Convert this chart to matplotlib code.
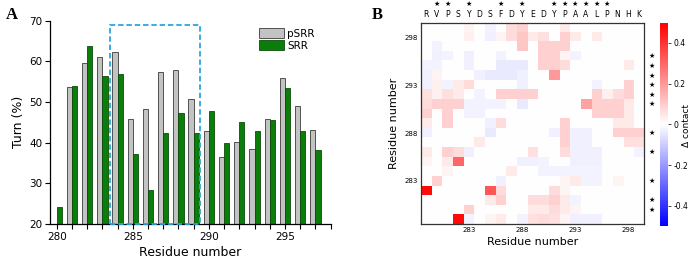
import numpy as np
import matplotlib
matplotlib.use("Agg")
import matplotlib.pyplot as plt
from matplotlib.patches import Rectangle
from matplotlib.ticker import MultipleLocator

# ---- panel A data: turn propensity per residue ----
residues = np.arange(280, 298)
turn_psrr = [0, 53.7, 59.5, 61.0, 62.3, 45.9, 48.2, 57.3, 57.8, 50.7,
             42.9, 36.5, 40.1, 38.4, 45.9, 56.0, 49.1, 43.0]
turn_srr = [24.1, 53.9, 63.8, 56.4, 56.9, 37.1, 28.4, 42.4, 47.2, 42.4,
            47.8, 39.8, 45.0, 42.8, 45.6, 53.4, 42.9, 38.2]
box_x = (283.5, 289.45)
box_top = 68.9

# ---- panel B data: delta contact map, residues 279..299 ----
sequence = list("RVPSYDSFDYEDYPAALPNHK")
first_res = 279
star_idx = [1, 2, 4, 7, 9, 12, 13, 14, 15, 16, 17]
# sparse entries: (row from top, column, value); row 0 = residue 299
contacts = [
    (0, 4, 0.02), (0, 6, -0.02), (0, 8, 0.07), (0, 9, 0.09), (0, 13, 0.04),
    (1, 4, 0.03), (1, 6, -0.03), (1, 7, 0.02), (1, 8, 0.07), (1, 9, 0.11), (1, 10, 0.04),
    (1, 11, 0.06), (1, 13, 0.09), (1, 14, 0.04), (1, 16, 0.04),
    (2, 1, -0.02), (2, 9, 0.11), (2, 11, 0.09), (2, 12, 0.09), (2, 13, 0.09),
    (3, 1, -0.03), (3, 2, -0.02), (3, 4, -0.03), (3, 7, -0.02), (3, 11, 0.09), (3, 12, 0.09),
    (3, 13, 0.02), (3, 14, -0.02),
    (4, 0, -0.02), (4, 1, -0.02), (4, 4, -0.03), (4, 7, -0.04), (4, 8, -0.04), (4, 9, -0.04),
    (4, 11, 0.09), (4, 12, 0.09), (4, 13, 0.07), (4, 19, 0.04),
    (5, 0, -0.03), (5, 1, 0.02), (5, 5, -0.03), (5, 6, -0.04), (5, 7, -0.04), (5, 8, -0.04),
    (5, 9, -0.03), (5, 12, 0.2),
    (6, 0, -0.03), (6, 1, 0.03), (6, 2, -0.02), (6, 3, 0.04), (6, 4, 0.07), (6, 9, -0.03),
    (6, 16, -0.02), (6, 19, 0.09),
    (7, 0, 0.06), (7, 1, 0.03), (7, 2, 0.06), (7, 3, 0.04), (7, 5, -0.02), (7, 7, 0.09),
    (7, 8, 0.09), (7, 9, 0.09), (7, 10, 0.09), (7, 16, 0.09), (7, 17, 0.03), (7, 18, 0.07),
    (7, 19, 0.09),
    (8, 0, 0.07), (8, 1, 0.09), (8, 2, 0.09), (8, 3, 0.09), (8, 4, -0.02), (8, 5, -0.02),
    (8, 6, -0.02), (8, 7, -0.02), (8, 9, -0.04), (8, 15, 0.18), (8, 16, 0.09), (8, 17, 0.09),
    (8, 18, 0.09), (8, 19, 0.04),
    (9, 0, 0.09), (9, 2, 0.09), (9, 4, -0.02), (9, 5, -0.02), (9, 16, 0.09), (9, 17, 0.09),
    (9, 18, 0.09), (9, 19, 0.04),
    (10, 0, 0.04), (10, 2, 0.09), (10, 6, -0.03), (10, 7, 0.07), (10, 13, 0.09),
    (10, 18, 0.04), (10, 19, 0.04),
    (11, 0, -0.03), (11, 6, -0.04), (11, 12, -0.03), (11, 13, 0.09), (11, 14, -0.03),
    (11, 15, -0.03), (11, 18, 0.09), (11, 19, 0.09), (11, 20, 0.09),
    (12, 5, 0.04), (12, 13, 0.09), (12, 14, -0.03), (12, 15, -0.03), (12, 19, 0.06),
    (12, 20, 0.06),
    (13, 0, 0.04), (13, 2, 0.09), (13, 3, 0.07), (13, 4, -0.03), (13, 10, 0.06), (13, 13, 0.07),
    (13, 14, -0.03), (13, 15, -0.03), (13, 16, -0.03), (13, 20, -0.02),
    (14, 0, 0.02), (14, 2, 0.04), (14, 3, 0.3), (14, 9, -0.03), (14, 10, -0.03),
    (14, 11, -0.02), (14, 14, -0.03), (14, 15, -0.03), (14, 16, -0.03),
    (15, 2, 0.02), (15, 8, 0.04), (15, 11, -0.02), (15, 12, -0.02), (15, 13, -0.02),
    (15, 14, -0.02), (15, 15, -0.02), (15, 16, -0.02),
    (16, 1, 0.09), (16, 7, -0.03), (16, 13, 0.02), (16, 14, 0.04), (16, 15, -0.02),
    (16, 16, -0.02), (16, 18, 0.02),
    (17, 0, 0.48), (17, 6, 0.33), (17, 7, 0.07), (17, 12, 0.07), (17, 13, 0.02),
    (18, 6, 0.04), (18, 7, 0.09), (18, 10, 0.07), (18, 11, 0.07), (18, 12, 0.09),
    (18, 13, 0.04), (18, 14, -0.02),
    (19, 4, 0.09), (19, 10, 0.04), (19, 11, 0.04), (19, 12, 0.07), (19, 13, 0.04), (19, 14, 0.02),
    (20, 3, 0.48), (20, 4, -0.02), (20, 6, 0.02), (20, 7, 0.04), (20, 9, -0.02), (20, 10, 0.06),
    (20, 11, 0.07), (20, 12, 0.06), (20, 13, 0.02), (20, 14, -0.03), (20, 15, -0.03),
    (20, 16, -0.03),
]

n = len(sequence)
last_res = first_res + n - 1
delta = np.zeros((n, n))
for r, c, v in contacts:
    delta[r, c] = v

fig = plt.figure(figsize=(6.93, 2.66), dpi=100)

# ---------------- panel A ----------------
ax = fig.add_axes([0.072, 0.158, 0.405, 0.764])
w = 0.34
ax.bar(residues - w / 2, turn_psrr, width=w, color='#c3c3c3', edgecolor='#3a3a3a',
       linewidth=0.6, label='pSRR')
ax.bar(residues + w / 2, turn_srr, width=w, color='#0a7d0a', edgecolor='#0b4d0b',
       linewidth=0.6, label='SRR')
ax.add_patch(Rectangle((box_x[0], 20), box_x[1] - box_x[0], box_top - 20, fill=False,
                       edgecolor='#2aa6e0', linewidth=1.3, linestyle=(0, (3, 1.6)),
                       zorder=5, clip_on=False))
ax.set_xlim(279.55, 298)
ax.set_ylim(20, 70)
ax.xaxis.set_major_locator(MultipleLocator(5))
ax.xaxis.set_minor_locator(MultipleLocator(1))
ax.yaxis.set_major_locator(MultipleLocator(10))
for s in ['top', 'right']:
    ax.spines[s].set_visible(False)
for s in ['left', 'bottom']:
    ax.spines[s].set_linewidth(0.9)
ax.tick_params(axis='both', which='major', labelsize=7.5, length=3.5, width=0.8, pad=2)
ax.tick_params(axis='x', which='minor', length=3.5, width=0.8)
ax.set_xlabel('Residue number', fontsize=9, labelpad=3)
ax.set_ylabel('Turn (%)', fontsize=9, labelpad=3)
ax.legend(loc='upper left', bbox_to_anchor=(0.72, 1.0), frameon=False, fontsize=7.5,
          handlelength=2.4, handleheight=1.1, labelspacing=0.15, handletextpad=0.3,
          borderpad=0.2)
fig.text(0.008, 0.975, 'A', fontsize=12, fontweight='bold', family='Liberation Serif',
         va='top', ha='left')

# ---------------- panel B ----------------
bx = fig.add_axes([0.6075, 0.158, 0.322, 0.756])
im = bx.imshow(delta, cmap='bwr', vmin=-0.5, vmax=0.5, aspect='auto',
               extent=[first_res - 0.5, last_res + 0.5, first_res - 0.5, last_res + 0.5],
               origin='upper', interpolation='nearest')
ticks = [283, 288, 293, 298]
bx.set_xticks(ticks)
bx.set_yticks(ticks)
bx.tick_params(axis='both', labelsize=5, length=0, pad=2)
for s in bx.spines.values():
    s.set_linewidth(0.9)
    s.set_color('#333333')
bx.set_xlabel('Residue number', fontsize=8, labelpad=3)
bx.set_ylabel('Residue number', fontsize=8, labelpad=4)

for i, aa in enumerate(sequence):
    bx.text(first_res + i, 1.04, aa, fontsize=5.5, ha='center', va='center',
            transform=bx.get_xaxis_transform())
for i in star_idx:
    bx.text(first_res + i, 1.095, '★', fontsize=5, ha='center', va='center',
            transform=bx.get_xaxis_transform())
    bx.text(1.035, first_res + i, '★', fontsize=5, ha='center', va='center',
            transform=bx.get_yaxis_transform())

cax = fig.add_axes([0.953, 0.150, 0.0115, 0.765])
cb = fig.colorbar(im, cax=cax, ticks=[-0.4, -0.2, 0, 0.2, 0.4])
cb.ax.set_yticklabels(['-0.4', '-0.2', '0', '0.2', '0.4'])
cb.ax.tick_params(labelsize=5.5, length=2, width=0.5, pad=1.5)
cb.outline.set_visible(False)
fig.text(0.997, 0.53, 'Δ contact', rotation=90, fontsize=6.5, ha='right', va='center')
fig.text(0.537, 0.975, 'B', fontsize=12, fontweight='bold', family='Liberation Serif',
         va='top', ha='left')

fig.savefig('out.png', dpi=100)
